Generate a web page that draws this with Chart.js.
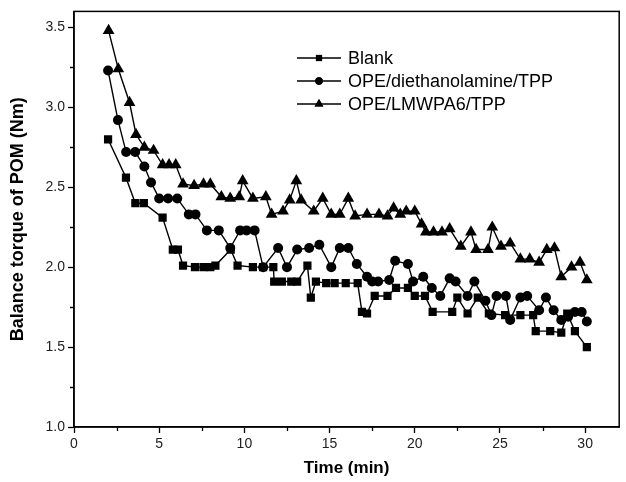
<!DOCTYPE html>
<html>
<head>
<meta charset="utf-8">
<script src="https://cdn.jsdelivr.net/npm/chart.js@4.4.1/dist/chart.umd.min.js"></script>
<style>
html, body { margin: 0; padding: 0; background: #fff; }
</style>
</head>
<body>
<canvas id="canvas_torque" width="626" height="482"></canvas>
<script>
var seriesNames = ["Blank", "OPE/diethanolamine/TPP", "OPE/LMWPA6/TPP"];

var blankTime = [2.0,3.05,3.6,4.1,5.2,5.8,6.1,6.4,7.1,7.6,8.0,8.3,9.2,9.6,10.5,11.1,11.7,11.75,12.2,12.75,13.1,13.7,13.9,14.2,14.8,15.3,15.95,16.65,16.9,17.2,17.65,18.4,18.9,19.6,20.0,20.6,21.05,22.2,22.5,23.1,23.7,24.35,25.3,26.2,26.95,27.1,27.95,28.6,28.95,29.4,30.1];
var blankTorque = [2.80,2.56,2.40,2.40,2.31,2.11,2.11,2.01,2.00,2.00,2.00,2.01,2.11,2.01,2.00,2.00,2.00,1.91,1.91,1.91,1.91,2.01,1.81,1.91,1.90,1.90,1.90,1.90,1.72,1.71,1.82,1.82,1.87,1.87,1.82,1.82,1.72,1.72,1.81,1.71,1.81,1.71,1.70,1.70,1.70,1.60,1.60,1.59,1.71,1.60,1.50];

var dieTime = [2.0,2.58,3.06,3.59,4.13,4.52,5.0,5.52,6.06,6.74,7.13,7.8,8.5,9.17,9.75,10.13,10.6,11.1,11.98,12.5,13.1,13.8,14.4,15.1,15.6,16.1,16.6,17.2,17.5,17.85,18.5,18.85,19.6,19.9,20.5,21.0,21.5,22.05,22.4,23.1,23.5,24.15,24.5,24.8,25.35,25.6,26.2,26.6,27.3,27.7,28.15,28.6,29.0,29.4,29.8,30.1];
var dieTorque = [3.23,2.92,2.72,2.72,2.63,2.53,2.43,2.43,2.43,2.33,2.33,2.23,2.23,2.12,2.23,2.23,2.23,2.00,2.12,2.00,2.11,2.12,2.14,2.00,2.12,2.12,2.02,1.94,1.91,1.91,1.92,2.04,2.02,1.91,1.94,1.87,1.82,1.93,1.91,1.82,1.91,1.79,1.70,1.82,1.82,1.67,1.81,1.82,1.73,1.81,1.73,1.67,1.69,1.72,1.72,1.66];

var lmwTime = [2.03,2.6,3.26,3.64,4.13,4.67,5.2,5.58,5.97,6.4,7.05,7.6,8.0,8.65,9.17,9.7,9.9,10.5,11.26,11.6,12.27,12.66,13.05,13.33,14.07,14.6,15.1,15.6,16.1,16.5,17.2,17.9,18.4,18.76,19.15,19.5,20.0,20.4,20.65,21.1,21.6,22.05,22.7,23.3,23.6,24.3,24.55,25.06,25.6,26.2,26.75,27.3,27.75,28.2,28.6,29.2,29.7,30.1];
var lmwTorque = [3.48,3.24,3.03,2.83,2.75,2.73,2.64,2.64,2.64,2.52,2.51,2.52,2.52,2.44,2.43,2.44,2.54,2.43,2.44,2.33,2.35,2.42,2.54,2.42,2.35,2.43,2.33,2.33,2.43,2.32,2.33,2.33,2.32,2.37,2.33,2.35,2.35,2.27,2.22,2.22,2.22,2.24,2.13,2.22,2.11,2.11,2.25,2.13,2.15,2.05,2.05,2.03,2.11,2.12,1.94,2.00,2.03,1.92];

var xTicks = [0, 5, 10, 15, 20, 25, 30];
var yTicks = [1.0, 1.5, 2.0, 2.5, 3.0, 3.5];
var xMinorTicks = [2.5, 7.5, 12.5, 17.5, 22.5, 27.5];
var yMinorTicks = [1.25, 1.75, 2.25, 2.75, 3.25];

function toPoints(xs, ys) {
    return xs.map(function (x, i) { return {x: x, y: ys[i]}; });
}

var markerStyles = ['rect', 'circle', 'triangle'];
var markerSizes = [5.8, 5, 6.8];

var datasets = [
    toPoints(blankTime, blankTorque),
    toPoints(dieTime, dieTorque),
    toPoints(lmwTime, lmwTorque)
].map(function (pts, i) {
    return {
        label: seriesNames[i],
        data: pts,
        borderColor: '#000',
        backgroundColor: '#000',
        borderWidth: 1.4,
        pointStyle: markerStyles[i],
        pointRadius: markerSizes[i],
        pointBorderWidth: 0,
        pointBackgroundColor: '#000',
        fill: false,
        tension: 0
    };
});

var fontFamily = 'Arial, "Liberation Sans", sans-serif';

// box round the plot, minor ticks and the legend inside the plot
var framePlugin = {
    id: 'frame',
    afterDraw: function (chart) {
        var ctx = chart.ctx;
        var a = chart.chartArea;
        var xs = chart.scales.x, ys = chart.scales.y;
        ctx.save();
        ctx.strokeStyle = '#000';
        ctx.lineWidth = 1.5;
        ctx.strokeRect(a.left, a.top, a.right - a.left, a.bottom - a.top);

        ctx.lineWidth = 1.3;
        ctx.beginPath();
        xMinorTicks.forEach(function (v) {
            var px = Math.round(xs.getPixelForValue(v)) + 0.5;
            ctx.moveTo(px, a.bottom);
            ctx.lineTo(px, a.bottom + 4);
        });
        yMinorTicks.forEach(function (v) {
            var py = Math.round(ys.getPixelForValue(v)) + 0.5;
            ctx.moveTo(a.left, py);
            ctx.lineTo(a.left - 4, py);
        });
        ctx.stroke();

        // legend
        var lx0 = 297, lx1 = 341, tx = 348;
        var rows = [58, 81, 104];
        ctx.font = '18px ' + fontFamily;
        ctx.textBaseline = 'middle';
        ctx.fillStyle = '#000';
        chart.data.datasets.forEach(function (ds, i) {
            var y = rows[i];
            ctx.lineWidth = 1.3;
            ctx.beginPath();
            ctx.moveTo(lx0, y);
            ctx.lineTo(lx1, y);
            ctx.stroke();
            Chart.helpers.drawPoint(ctx, {pointStyle: ds.pointStyle, radius: ds.pointRadius * 0.75, borderWidth: 0}, (lx0 + lx1) / 2, y);
            ctx.fill();
            ctx.fillText(ds.label, tx, y + 1);
        });
        ctx.restore();
    }
};

var ctx = document.getElementById('canvas_torque');
var torqueChart = new Chart(ctx, {
    type: 'line',
    data: { datasets: datasets },
    plugins: [framePlugin],
    options: {
        responsive: false,
        animation: false,
        layout: { padding: { left: 0, top: 11, right: 1, bottom: 0 } },
        plugins: {
            legend: { display: false },
            tooltip: { enabled: false }
        },
        scales: {
            x: {
                type: 'linear',
                min: 0,
                max: 32,
                afterBuildTicks: function (scale) {
                    scale.ticks = xTicks.map(function (v) { return {value: v}; });
                },
                afterFit: function (scale) { scale.height = 55; },
                grid: { display: true, drawOnChartArea: false, drawTicks: true, tickLength: 6, tickWidth: 1.3, tickColor: '#000' },
                border: { display: true, color: '#000', width: 1.5 },
                ticks: {
                    color: '#222',
                    padding: 3,
                    maxRotation: 0,
                    font: { family: fontFamily, size: 14 },
                    callback: function (v) { return String(v); }
                },
                title: {
                    display: true,
                    text: 'Time (min)',
                    color: '#000',
                    font: { family: fontFamily, size: 17, weight: 'bold' },
                    padding: { top: 0, bottom: 3 }
                }
            },
            y: {
                type: 'linear',
                min: 1.0,
                max: 3.6,
                afterBuildTicks: function (scale) {
                    scale.ticks = yTicks.map(function (v) { return {value: v}; });
                },
                afterFit: function (scale) { scale.width = 74; },
                grid: { display: true, drawOnChartArea: false, drawTicks: true, tickLength: 6, tickWidth: 1.3, tickColor: '#000' },
                border: { display: true, color: '#000', width: 1.5 },
                ticks: {
                    color: '#222',
                    padding: 3,
                    font: { family: fontFamily, size: 14 },
                    callback: function (v) { return Number(v).toFixed(1); }
                },
                title: {
                    display: true,
                    text: 'Balance torque of POM (Nm)',
                    color: '#000',
                    font: { family: fontFamily, size: 18, weight: 'bold' },
                    padding: { top: 7, bottom: 0 }
                }
            }
        }
    }
});
</script>
</body>
</html>
